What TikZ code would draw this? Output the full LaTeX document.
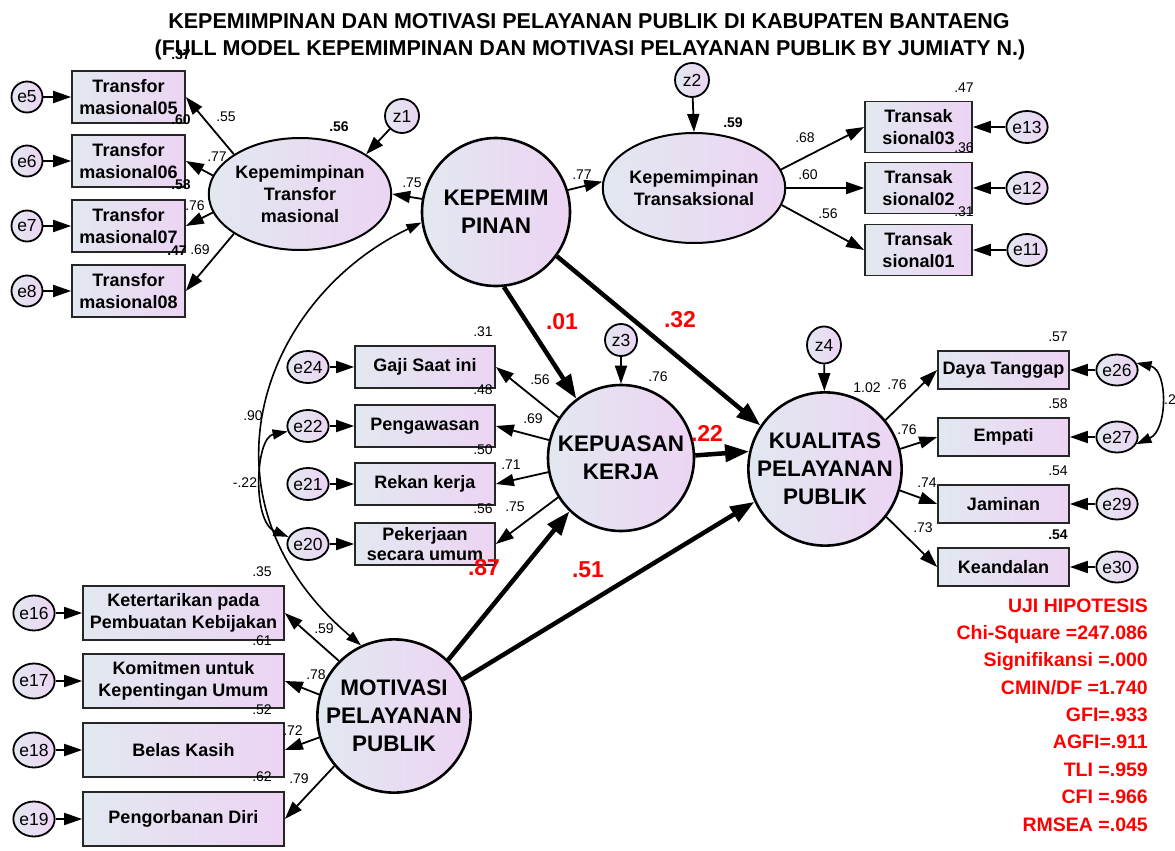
\documentclass[tikz,border=0pt]{standalone}
\usepackage{fontspec}
\setmainfont{Liberation Sans}
\usetikzlibrary{arrows.meta,shapes.geometric}
\definecolor{gl}{RGB}{226,232,240}
\definecolor{gr}{RGB}{236,212,243}
\definecolor{hyp}{RGB}{255,0,0}
\newcommand{\setfs}[2]{\fontsize{#1}{#2}\selectfont}

\begin{document}
\begin{tikzpicture}[x=1pt,y=-1pt,
  box/.style={rectangle, draw=black!85, line width=1.7pt, left color=gl, right color=gr,
    inner sep=0pt, align=center, font=\setfs{18}{22}\bfseries},
  latent/.style={circle, draw=black, line width=2.6pt, left color=gl, right color=gr,
    inner sep=0pt, align=center, minimum size=146pt, font=\setfs{22.5}{28}\bfseries},
  oval/.style={ellipse, draw=black, line width=2pt, left color=gl, right color=gr,
    inner sep=0pt, align=center, font=\setfs{18}{22}\bfseries},
  err/.style={ellipse, draw=black, line width=1.8pt, left color=gl, right color=gr,
    inner sep=0pt, font=\setfs{17.5}{20}},
  num/.style={inner sep=0pt, font=\setfs{14}{16}},
  numb/.style={inner sep=0pt, font=\setfs{14}{16}\bfseries},
  coef/.style={inner sep=0pt, text=hyp, font=\setfs{23}{26}\bfseries},
  stat/.style={inner sep=0pt, anchor=base east, text=hyp, font=\setfs{19.5}{22}\bfseries},
  ttl/.style={inner sep=0pt, anchor=base, font=\setfs{21.5}{24}\bfseries},
  ld/.style={line width=1.8pt, -{Triangle[length=18pt,width=12pt]}},
  sp/.style={line width=4.5pt, -{Triangle[length=24pt,width=17pt]}},
  covar/.style={line width=1.6pt, {Triangle[length=15pt,width=10pt]}-{Triangle[length=15pt,width=10pt]}},
]
\useasboundingbox (0,0) rectangle (1175,851);
\fill[white] (0,0) rectangle (1175,851);

% ---------- title ----------
\node[ttl] (title1) at (589,29) {KEPEMIMPINAN DAN MOTIVASI PELAYANAN PUBLIK DI KABUPATEN BANTAENG};
\node[ttl] (title2) at (590,56) {(FULL MODEL KEPEMIMPINAN DAN MOTIVASI PELAYANAN PUBLIK BY JUMIATY N.)};

% ---------- transformational leadership ----------
\foreach \n/\y/\t in {t5/97/05, t6/161/06, t7/226/07, t8/291/08}
  \node[box, minimum width=113pt, minimum height=52pt] (\n) at (128.5,\y) {Transfor\\masional\t};
\foreach \n/\y/\t in {e5/97/e5, e6/161/e6, e7/226/e7, e8/291/e8}
  \node[err, minimum width=31pt, minimum height=31pt] (\n) at (27,\y) {\t};
\node[oval, minimum width=156pt, minimum height=112pt] (kt) at (300,194) {Kepemimpinan\\Transfor\\masional};
\node[err, minimum width=34pt, minimum height=34pt] (z1) at (402,116) {z1};

% ---------- leadership ----------
\node[latent, minimum size=148pt] (kep) at (496,212) {KEPEMIM\\PINAN};

% ---------- transactional leadership ----------
\node[oval, minimum width=155pt, minimum height=110pt] (trs) at (694,188) {Kepemimpinan\\Transaksional};
\node[err, minimum width=34pt, minimum height=34pt] (z2) at (692,80) {z2};
\foreach \n/\y/\t in {r3/127/03, r2/188/02, r1/250/01}
  \node[box, minimum width=107pt, minimum height=51pt] (\n) at (918.5,\y) {Transak\\sional\t};
\foreach \n/\y in {e13/127, e12/188, e11/250}
  \node[err, minimum width=38pt, minimum height=32pt] (\n) at (1027,\y) {\n};

% ---------- job satisfaction ----------
\node[latent] (kk) at (621,458) {KEPUASAN\\KERJA};
\node[err, minimum width=32pt, minimum height=32pt] (z3) at (621,340) {z3};
\node[box, minimum width=140pt, minimum height=42pt] (g) at (425,367) {Gaji Saat ini};
\node[box, minimum width=140pt, minimum height=42pt] (p) at (425,426) {Pengawasan};
\node[box, minimum width=140pt, minimum height=42pt] (rk) at (425,484) {Rekan kerja};
\node[box, minimum width=140pt, minimum height=42pt, font=\setfs{18}{20}\bfseries] (pk) at (425,544) {Pekerjaan\\secara umum};
\foreach \n/\y in {e24/367, e22/426, e21/484, e20/544}
  \node[err, minimum width=32pt, minimum height=32pt] (\n) at (308,\y) {\n};

% ---------- public service quality ----------
\node[latent, minimum size=144pt] (kp) at (825,469) {KUALITAS\\PELAYANAN\\PUBLIK};
\node[err, minimum width=34pt, minimum height=37pt] (z4) at (824,345) {z4};
\node[box, minimum width=131pt, minimum height=38pt] (dt) at (1003.5,370) {Daya Tanggap};
\node[box, minimum width=131pt, minimum height=38pt] (em) at (1003.5,437) {Empati};
\node[box, minimum width=131pt, minimum height=38pt] (jm) at (1003.5,504) {Jaminan};
\node[box, minimum width=131pt, minimum height=38pt] (kd) at (1003.5,567) {Keandalan};
\foreach \n/\y in {e26/370, e27/437, e29/504, e30/567}
  \node[err, minimum width=38pt, minimum height=31pt] (\n) at (1117,\y) {\n};

% ---------- public service motivation ----------
\node[latent] (mp) at (394,716) {MOTIVASI\\PELAYANAN\\PUBLIK};
\node[box, minimum width=201pt, minimum height=54pt] (k1) at (183.5,613) {Ketertarikan pada\\Pembuatan Kebijakan};
\node[box, minimum width=201pt, minimum height=54pt] (k2) at (183.5,681) {Komitmen untuk\\Kepentingan Umum};
\node[box, minimum width=201pt, minimum height=54pt] (k3) at (183.5,750) {Belas Kasih};
\node[box, minimum width=201pt, minimum height=54pt] (k4) at (183.5,819) {Pengorbanan Diri};
\foreach \n/\y in {e16/613, e17/681, e18/750, e19/819}
  \node[err, minimum width=37pt, minimum height=35pt] (\n) at (34,\y) {\n};

% ---------- loadings and residual paths ----------
\draw[ld] (kt.149) -- (t5.east);
\draw[ld] (kt.168) -- (t6.east);
\draw[ld] (kt.192) -- (t7.east);
\draw[ld] (kt.211.5) -- (t8.east);
\foreach \a/\b in {e5/t5, e6/t6, e7/t7, e8/t8} \draw[ld] (\a) -- (\b);
\draw[ld] (z1) -- (kt.31);
\draw[ld] (kep.170) -- (kt.0);
\draw[ld] (kep.17) -- (trs.176);
\draw[ld] (z2) -- (trs.north);
\draw[ld] (trs.12) -- (r3.west);
\draw[ld] (trs.0) -- (r2.west);
\draw[ld] (trs.-11) -- (r1.west);
\foreach \a/\b in {e13/r3, e12/r2, e11/r1} \draw[ld] (\a) -- (\b);

\draw[ld] (z3) -- (kk);
\draw[ld] (kk.147) -- (g.east);
\draw[ld] (kk.166) -- (p.east);
\draw[ld] (kk.191) -- (rk.east);
\draw[ld] (kk.212) -- (pk.east);
\foreach \a/\b in {e24/g, e22/p, e21/rk, e20/pk} \draw[ld] (\a) -- (\b);

\draw[ld] (z4) -- (kp);
\draw[ld] (kp.39.5) -- (dt.west);
\draw[ld] (kp.15) -- (em.west);
\draw[ld] (kp.-16) -- (jm.west);
\draw[ld] (kp.-38) -- (kd.west);
\foreach \a/\b in {e26/dt, e27/em, e29/jm, e30/kd} \draw[ld] (\a) -- (\b);

\draw[ld] (mp.135.5) -- (k1.east);
\draw[ld] (mp.164) -- (k2.east);
\draw[ld] (mp.196) -- (k3.east);
\draw[ld] (mp.220) -- (k4.east);
\foreach \a/\b in {e16/k1, e17/k2, e18/k3, e19/k4} \draw[ld] (\a) -- (\b);

% ---------- structural paths ----------
\draw[sp] (kep.-84) -- (kk.127);
\draw[sp] (kep.-36) -- (kp.146.5);
\draw[sp] (kk.2) -- (kp.167);
\draw[sp] (mp.46.6) -- (kk.-134);
\draw[sp] (mp.28.6) -- (kp.-155);

% ---------- covariances ----------
\draw[covar] (mp.115) .. controls (190,500) and (260,300) .. (kep.188);
\draw[covar] (e22.195) .. controls (255,438) and (252,522) .. (e20.160);
\draw[covar] (e26.20) .. controls (1168,370) and (1168,430) .. (e27.-20);

% ---------- estimates ----------
\node[numb] (q37) at (181,55) {.37};
\node[numb] (q60) at (181,120) {.60};
\node[numb] (q58) at (181,185) {.58};
\node[numb] (q47) at (177,251) {.47};
\node[num] (w55) at (226,117) {.55};
\node[num] (w77) at (217,157) {.77};
\node[num] (w76) at (195,206) {.76};
\node[num] (w69) at (200,250) {.69};
\node[numb] (q56) at (339,127) {.56};
\node[num] (w75) at (412,183) {.75};
\node[num] (w77b) at (582,175) {.77};
\node[numb] (q59) at (733,123) {.59};
\node[num] (q47b) at (964,88) {.47};
\node[num] (q36) at (964,148) {.36};
\node[num] (q31) at (964,212) {.31};
\node[num] (w68) at (805,138) {.68};
\node[num] (w60) at (808,175) {.60};
\node[num] (w56) at (828,214) {.56};

\node[num] (q31b) at (483,332) {.31};
\node[num] (q48) at (483,390) {.48};
\node[num] (q50) at (483,450) {.50};
\node[num] (q56b) at (483,509) {.56};
\node[num] (w56b) at (540,380) {.56};
\node[num] (w69b) at (533,419) {.69};
\node[num] (w71) at (511,465) {.71};
\node[num] (w75b) at (515,507) {.75};
\node[num] (q76) at (658,377) {.76};
\node[num] (c90) at (253,416) {.90};
\node[num] (c22) at (245,483) {-.22};

\node[coef] (b01) at (562,322) {.01};
\node[coef] (b32) at (680,320) {.32};
\node[coef] (b22) at (707,433) {.22};
\node[coef] (b87) at (484,568) {.87};
\node[coef] (b51) at (588,570) {.51};

\node[num] (q57) at (1058,337) {.57};
\node[num] (q58b) at (1058,404) {.58};
\node[num] (q54) at (1058,471) {.54};
\node[numb] (q54b) at (1058,535) {.54};
\node[num] (q102) at (867,388) {1.02};
\node[num] (w76c) at (897,385) {.76};
\node[num] (w76d) at (907,430) {.76};
\node[num] (w74) at (927,483) {.74};
\node[num] (w73) at (923,528) {.73};
\node[num, anchor=west] (c2) at (1164,400) {.2};

\node[num] (q35) at (262,572) {.35};
\node[num] (q61) at (262,641) {.61};
\node[num] (q52) at (262,710) {.52};
\node[num] (q62) at (262,777) {.62};
\node[num] (w59) at (324,629) {.59};
\node[num] (w78) at (316,675) {.78};
\node[num] (w72) at (293,731) {.72};
\node[num] (w79) at (299,779) {.79};

% ---------- fit statistics ----------
\node[stat] (s1) at (1148,612) {UJI HIPOTESIS};
\node[stat] (s2) at (1148,639) {Chi-Square =247.086};
\node[stat] (s3) at (1148,666) {Signifikansi =.000};
\node[stat] (s4) at (1148,694) {CMIN/DF =1.740};
\node[stat] (s5) at (1148,721) {GFI=.933};
\node[stat] (s6) at (1148,748) {AGFI=.911};
\node[stat] (s7) at (1148,776) {TLI =.959};
\node[stat] (s8) at (1148,803) {CFI =.966};
\node[stat] (s9) at (1148,831) {RMSEA =.045};
\end{tikzpicture}
\end{document}
